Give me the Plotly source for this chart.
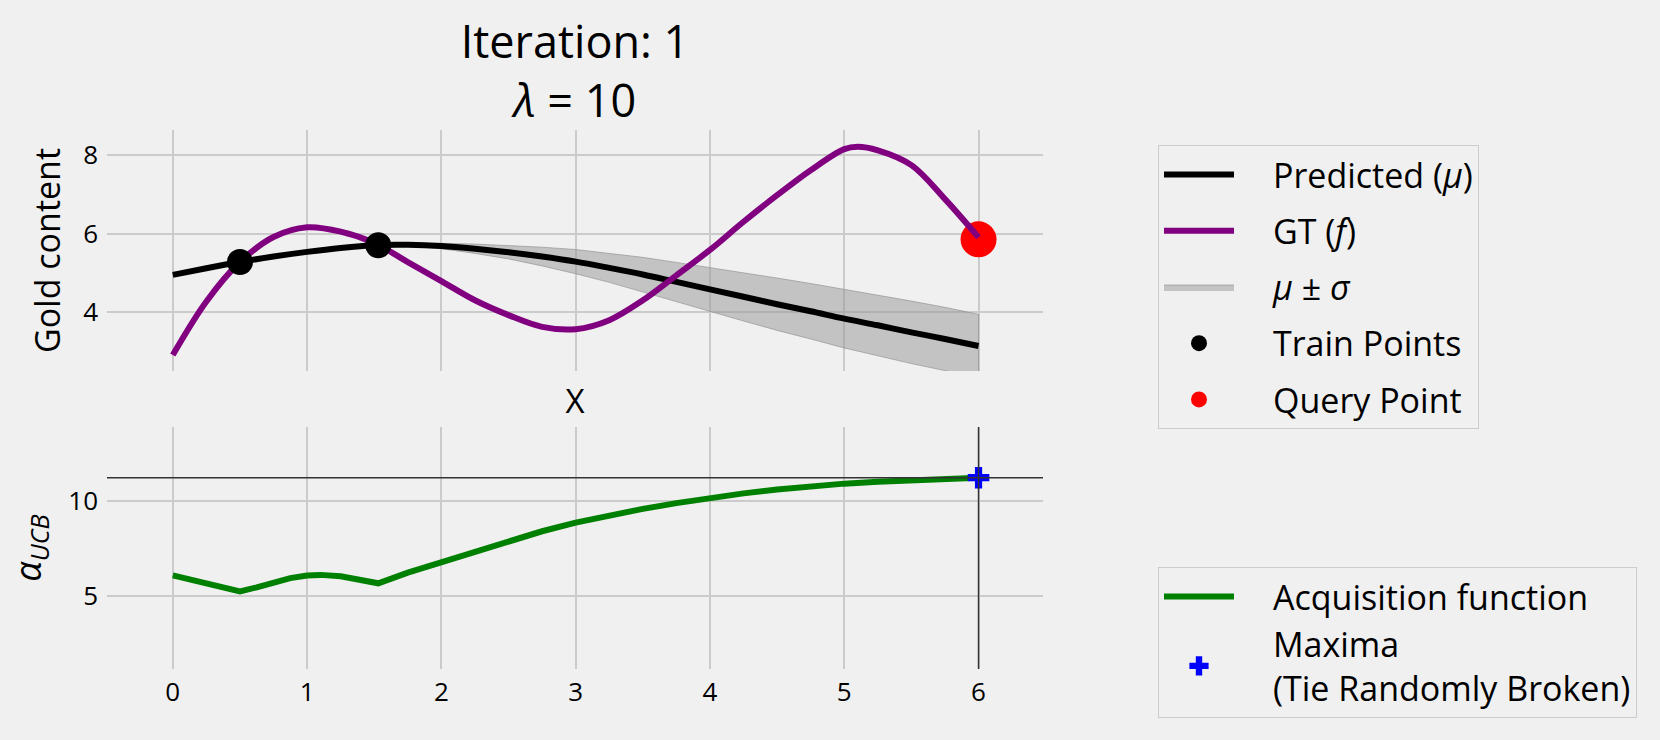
import plotly.graph_objects as go

# ---------------- data ----------------
x_vals = [0, 0.25, 0.5, 0.75, 1.0, 1.25, 1.5, 1.75, 2.0, 2.25, 2.5, 2.75, 3.0,
          3.25, 3.5, 3.75, 4.0, 4.25, 4.5, 4.75, 5.0, 5.25, 5.5, 5.75, 6.0]
mu = [4.94, 5.11, 5.27, 5.41, 5.53, 5.63, 5.70, 5.71, 5.68, 5.61, 5.52, 5.41, 5.28,
      5.12, 4.95, 4.76, 4.57, 4.38, 4.19, 4.01, 3.82, 3.65, 3.47, 3.30, 3.12]
sigma = [0.03, 0.02, 0.0, 0.01, 0.02, 0.015, 0.0, 0.02, 0.07, 0.12, 0.17, 0.24, 0.31,
         0.37, 0.44, 0.50, 0.56, 0.62, 0.67, 0.71, 0.75, 0.78, 0.80, 0.81, 0.81]

gt_x = [0, 0.25, 0.5, 0.75, 1.0, 1.25, 1.5, 1.75, 2.0, 2.25, 2.5, 2.75, 3.0,
        3.25, 3.5, 3.75, 4.0, 4.25, 4.5, 4.75, 5.0, 5.1, 5.25, 5.5, 5.75, 6.0]
gt = [2.89, 4.26, 5.27, 5.91, 6.16, 6.05, 5.76, 5.27, 4.78, 4.29, 3.91, 3.61, 3.55,
      3.78, 4.29, 4.93, 5.58, 6.30, 6.98, 7.62, 8.16, 8.22, 8.13, 7.75, 6.88, 5.90]

acq_x = [0, 0.25, 0.5, 0.625, 0.75, 0.875, 1.0, 1.1, 1.25, 1.4, 1.53, 1.75, 2.0, 2.25,
         2.5, 2.75, 3.0, 3.25, 3.5, 3.75, 4.0, 4.25, 4.5, 4.75, 5.0, 5.25, 5.5, 5.75, 6.0]
acq = [6.09, 5.68, 5.26, 5.47, 5.74, 5.95, 6.09, 6.12, 6.05, 5.88, 5.68, 6.24, 6.79, 7.35,
       7.90, 8.40, 8.85, 9.23, 9.57, 9.87, 10.14, 10.38, 10.58, 10.75, 10.89, 10.99, 11.07,
       11.14, 11.20]

train_x = [0.5, 1.53]
train_y = [5.27, 5.70]
query_x = [6.0]
query_y = [5.85]
maxima_x = [6.0]
maxima_y = [11.2]

x_ticks = [0, 1, 2, 3, 4, 5, 6]
top_y_ticks = [4, 6, 8]
bot_y_ticks = [5, 10]

FONT = "Open Sans"
BG = "#f0f0f0"
GRID = "#cbcbcb"
PAD = "\u2002\u2002"  # small gap between legend symbol and label

upper = [m + s for m, s in zip(mu, sigma)]
lower = [m - s for m, s in zip(mu, sigma)]

fig = go.Figure()

# band (mu +- sigma)
fig.add_trace(go.Scatter(
    x=x_vals + x_vals[::-1], y=upper + lower[::-1],
    fill="toself", fillcolor="rgba(150,150,150,0.5)",
    line=dict(color="rgba(140,140,140,0.6)", width=1),
    mode="lines", name=PAD + "<i>μ</i> ± <i>σ</i>", legend="legend", legendgroup="g3",
    legendrank=3, xaxis="x", yaxis="y", hoverinfo="skip"))
# predicted mean
fig.add_trace(go.Scatter(
    x=x_vals, y=mu, mode="lines",
    line=dict(color="black", width=6, shape="spline", smoothing=1.0),
    name=PAD + "Predicted (<i>μ</i>)", legend="legend", legendgroup="g1", legendrank=1,
    xaxis="x", yaxis="y"))
# query point
fig.add_trace(go.Scatter(
    x=query_x, y=query_y, mode="markers", marker=dict(color="red", size=36),
    name=PAD + "Query Point", legend="legend", legendgroup="g5", legendrank=5,
    xaxis="x", yaxis="y"))
# ground truth
fig.add_trace(go.Scatter(
    x=gt_x, y=gt, mode="lines",
    line=dict(color="#800080", width=6, shape="spline", smoothing=1.0),
    name=PAD + "GT (<i>f</i>)", legend="legend", legendgroup="g2", legendrank=2,
    xaxis="x", yaxis="y"))
# train points
fig.add_trace(go.Scatter(
    x=train_x, y=train_y, mode="markers", marker=dict(color="black", size=26),
    name=PAD + "Train Points", legend="legend", legendgroup="g4", legendrank=4,
    xaxis="x", yaxis="y"))

# acquisition function
fig.add_trace(go.Scatter(
    x=acq_x, y=acq, mode="lines", line=dict(color="#008000", width=6),
    name=PAD + "Acquisition function", legend="legend2", legendgroup="h1", legendrank=1,
    xaxis="x2", yaxis="y2"))
# maxima
fig.add_trace(go.Scatter(
    x=maxima_x, y=maxima_y, mode="markers",
    marker=dict(color="blue", size=18, symbol="cross"),
    name=PAD + "Maxima<br>" + PAD + "(Tie Randomly Broken)", legend="legend2",
    legendgroup="h2", legendrank=2, xaxis="x2", yaxis="y2"))

# crosshair on maxima
fig.add_shape(type="line", xref="x2 domain", yref="y2", x0=0, x1=1,
              y0=maxima_y[0], y1=maxima_y[0], line=dict(color="#333333", width=1.5))
fig.add_shape(type="line", xref="x2", yref="y2 domain", x0=maxima_x[0], x1=maxima_x[0],
              y0=0, y1=1, line=dict(color="#333333", width=1.5))

axis_common = dict(showgrid=True, gridcolor=GRID, gridwidth=2, zeroline=False,
                   showline=False, ticks="", automargin=False,
                   tickfont=dict(family=FONT, size=26, color="black"))

fig.update_layout(
    width=1660, height=740,
    paper_bgcolor=BG, plot_bgcolor=BG,
    font=dict(family=FONT, color="black"),
    margin=dict(l=107, r=617, t=0, b=0, autoexpand=False),
    title=dict(text="Iteration: 1<br><i>λ</i> = 10", x=0.5, xref="paper", xanchor="center",
               y=1 - 58 / 740, yref="container", yanchor="top",
               font=dict(family=FONT, size=45, color="black")),
    xaxis=dict(domain=[0, 1], anchor="y", range=[-0.49, 6.48], tickvals=x_ticks,
               showticklabels=False,
               title=dict(text="X", font=dict(family=FONT, size=33, color="black"), standoff=18),
               **axis_common),
    yaxis=dict(domain=[1 - 371 / 740, 1 - 130 / 740], anchor="x", range=[2.48, 8.65],
               tickvals=top_y_ticks, ticklabelstandoff=8,
               title=dict(text="Gold content", font=dict(family=FONT, size=34, color="black"),
                          standoff=12),
               **axis_common),
    xaxis2=dict(domain=[0, 1], anchor="y2", range=[-0.49, 6.48], tickvals=x_ticks,
                ticklabelstandoff=5, **axis_common),
    yaxis2=dict(domain=[1 - 669 / 740, 1 - 427 / 740], anchor="x2", range=[1.2, 13.85],
                tickvals=bot_y_ticks, ticklabelstandoff=8,
                title=dict(text="<i>α</i><sub><i>UCB</i></sub>",
                           font=dict(family=FONT, size=36, color="black"), standoff=15),
                **axis_common),
    legend=dict(x=(1158 - 107) / 936, xanchor="left", y=1 - 145 / 740, yanchor="top",
                bgcolor=BG, bordercolor="#cccccc", borderwidth=1,
                font=dict(family=FONT, size=34, color="black"),
                itemwidth=70, tracegroupgap=9, traceorder="grouped"),
    legend2=dict(x=(1158 - 107) / 936, xanchor="left", y=1 - 567 / 740, yanchor="top",
                 bgcolor=BG, bordercolor="#cccccc", borderwidth=1,
                 font=dict(family=FONT, size=34, color="black"),
                 itemwidth=70, tracegroupgap=0, traceorder="grouped"),
    showlegend=True,
)

fig.write_html(
    "out.html",
    config={"displayModeBar": False},
    post_script="document.body.style.margin='0';document.body.style.background='#f0f0f0';",
)
